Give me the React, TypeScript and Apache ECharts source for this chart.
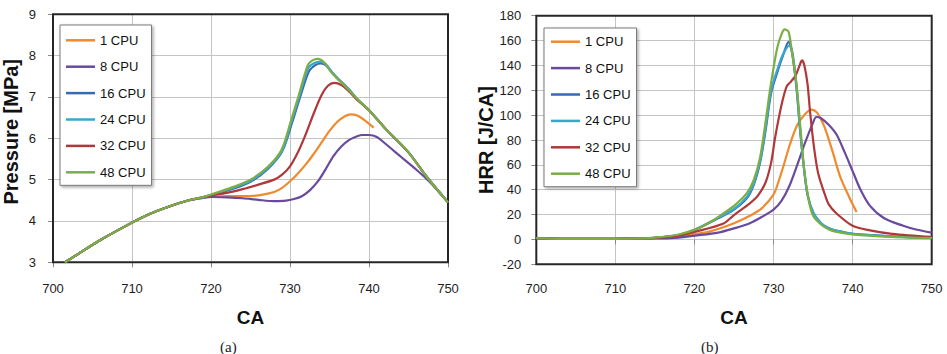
import React, { useEffect, useRef } from "react";
import * as echarts from "echarts";

// Series names and colours
const seriesNames = ["1 CPU", "8 CPU", "16 CPU", "24 CPU", "32 CPU", "48 CPU"];
const seriesColors = ["#F08A2C", "#6A4A9C", "#356AB5", "#3AA6CB", "#B0383A", "#7BAE45"];

// ---- Cylinder pressure [MPa] vs crank angle ----
// compression part shared by every run
const pCommonCa = [701.5, 703, 706, 710, 712, 714.7, 717.2];
const pCommonVal = [3.0, 3.18, 3.54, 3.96, 4.15, 4.35, 4.5];

const p1Ca = [719, 720, 722, 724, 726, 728, 729, 730, 731, 732, 733, 734, 735, 736, 737, 737.7, 738.5, 739.5, 740.6];
const p1Val = [4.56, 4.58, 4.6, 4.6, 4.62, 4.7, 4.8, 4.96, 5.15, 5.37, 5.62, 5.9, 6.18, 6.4, 6.54, 6.58, 6.55, 6.43, 6.26];

const p8Ca = [719, 720, 722, 724, 726, 728, 729.5, 730.5, 731.5, 732.5, 733.5, 734.5, 735.5, 736.5, 737.5, 738.5, 739.2, 740, 741, 742, 744, 746, 747, 748, 750];
const p8Val = [4.56, 4.58, 4.57, 4.55, 4.51, 4.48, 4.49, 4.53, 4.6, 4.74, 4.95, 5.25, 5.57, 5.8, 5.96, 6.05, 6.08, 6.08, 6.03, 5.88, 5.56, 5.24, 5.07, 4.88, 4.45];

const p16Ca = [719, 720, 722.5, 725, 727.2, 729, 730.3, 731.2, 732.4, 733.2, 733.9, 734.6, 735.4, 736.2, 737.4, 738.5, 740, 742, 745, 747.3, 750];
const p16Val = [4.57, 4.62, 4.76, 4.95, 5.26, 5.68, 6.4, 6.95, 7.62, 7.77, 7.81, 7.76, 7.58, 7.42, 7.2, 6.95, 6.68, 6.25, 5.66, 5.07, 4.45];

const p24Ca = [719, 720, 722.5, 725, 727.2, 729, 730.2, 731.1, 732.3, 733.1, 733.8, 734.5, 735.3, 736.1, 737.4, 738.5, 740, 742, 745, 747.3, 750];
const p24Val = [4.57, 4.63, 4.78, 4.97, 5.28, 5.7, 6.42, 6.96, 7.7, 7.82, 7.85, 7.8, 7.6, 7.43, 7.2, 6.95, 6.68, 6.25, 5.66, 5.07, 4.45];

const p32Ca = [719, 720, 722, 724, 726, 728, 729, 730, 731, 732, 733, 734, 734.8, 735.6, 736.5, 737.5, 738.5, 740, 742, 745, 747.3, 750];
const p32Val = [4.58, 4.62, 4.68, 4.77, 4.88, 5.0, 5.12, 5.32, 5.66, 6.1, 6.6, 7.05, 7.27, 7.34, 7.29, 7.13, 6.93, 6.68, 6.25, 5.66, 5.07, 4.45];

const p48Ca = [719, 720, 722.5, 725, 727.2, 728.9, 730.15, 731, 732.25, 732.8, 733.5, 734.3, 735.2, 736, 737.3, 738.5, 740, 742, 743.6, 745, 747.3, 750];
const p48Val = [4.58, 4.64, 4.8, 5.0, 5.31, 5.71, 6.44, 6.97, 7.77, 7.88, 7.92, 7.84, 7.6, 7.44, 7.2, 6.95, 6.68, 6.25, 5.95, 5.66, 5.07, 4.45];

// ---- Heat release rate [J/CA] vs crank angle ----
const hCommonCa = [700, 703, 706, 710, 713];
const hCommonVal = [1, 0.5, 0.4, 0.5, 0.8];

const h1Ca = [715, 718, 720, 722, 725, 727, 728.5, 730, 730.6, 731.3, 732.1, 733, 734, 734.8, 735.5, 736.2, 736.7, 737.5, 738.4, 739.5, 740.5];
const h1Val = [1.2, 2.2, 4.3, 6.5, 13, 19, 25, 36, 46, 60, 77, 92, 101, 104.5, 102, 94, 86, 70, 51, 35, 22];

const h8Ca = [715, 718, 720, 723, 725, 727, 728.5, 730, 731, 732, 733, 734, 735, 735.4, 736, 737, 738, 739, 740, 741, 742.2, 744, 746.4, 748, 750];
const h8Val = [0.8, 1.5, 3, 5.5, 8.9, 13, 18, 24, 31, 43, 60, 78, 94, 98.5, 97.5, 92, 84, 70, 55, 40, 27, 17, 11, 8, 5.5];

const h16Ca = [715, 718, 720, 723, 725, 726.6, 727.5, 728.3, 729, 729.7, 730.5, 731.2, 731.9, 732.3, 732.9, 733.3, 733.8, 734.3, 735, 736, 737, 738, 740, 745, 750];
const h16Val = [1.3, 3.5, 7.5, 17, 24, 33, 44, 62, 88, 118, 135, 148, 159, 152, 122, 92, 60, 36, 22, 13, 9, 7, 4.5, 2.5, 1.2];

const h24Ca = [715, 718, 720, 723, 725, 726.6, 727.5, 728.3, 729, 729.7, 730.5, 731.2, 732, 732.4, 732.9, 733.3, 733.8, 734.3, 735, 736, 737, 738, 740, 745, 750];
const h24Val = [1.3, 3.6, 7.8, 17.5, 24.5, 34, 45, 63, 90, 120, 137, 149, 156, 150, 124, 93, 60, 36, 22, 13, 9, 7, 4.5, 2.5, 1.2];

const h32Ca = [715, 718, 720, 723.6, 725, 727, 728, 729, 729.7, 730.2, 731, 731.65, 732.2, 732.8, 733.3, 733.6, 733.9, 734.3, 734.6, 735.1, 735.65, 736.5, 737, 738, 740, 742.2, 745, 750];
const h32Val = [1.2, 3, 6, 12.6, 19.6, 29, 35, 46, 62, 82, 108, 123, 127, 132, 140, 144, 140, 125, 104, 75, 53, 36, 28, 20.7, 11, 7.3, 4.5, 2];

const h48Ca = [715, 718, 720.3, 722, 723.2, 725, 726.6, 727.5, 728.3, 729, 729.5, 730, 730.5, 731, 731.4, 731.9, 732.3, 732.9, 733.4, 733.9, 734.5, 735, 736, 737, 738, 740, 745, 750];
const h48Val = [1.5, 4, 8.5, 14, 19, 27, 37, 48, 66, 95, 118, 138, 155, 165, 169, 167, 152, 125, 90, 55, 30, 19, 12, 8, 6, 4, 2, 1];

// Axis settings
const xMin = 700;
const xMax = 750;
const xStep = 10;
const pMin = 3;
const pMax = 9;
const pStep = 1;
const hMin = -20;
const hMax = 180;
const hStep = 20;

const pressureCa = [p1Ca, p8Ca, p16Ca, p24Ca, p32Ca, p48Ca];
const pressureVal = [p1Val, p8Val, p16Val, p24Val, p32Val, p48Val];
const hrrCa = [h1Ca, h8Ca, h16Ca, h24Ca, h32Ca, h48Ca];
const hrrVal = [h1Val, h8Val, h16Val, h24Val, h32Val, h48Val];

const pairs = (xs: number[], ys: number[]) => xs.map((x, i) => [x, ys[i]]);

const FONT = "'Liberation Sans', Arial, Helvetica, sans-serif";

function axisCommon(labelMargin: number) {
  return {
    axisLine: { show: false },
    axisTick: { show: true, length: 5, lineStyle: { color: "#8a8a8a", width: 1 } },
    axisLabel: { color: "#1e1e1e", fontSize: 13, fontFamily: FONT, margin: labelMargin },
    splitLine: { show: true, lineStyle: { color: "#c4c4c4", width: 1 } },
  };
}

function legendAt(left: number, top: number, padding: number[]) {
  return {
    show: true,
    orient: "vertical",
    left,
    top,
    data: seriesNames,
    icon: "rect",
    itemWidth: 29,
    itemHeight: 2.5,
    itemGap: 10.4,
    padding,
    selectedMode: false,
    backgroundColor: "#ffffff",
    borderColor: "#7a7a7a",
    borderWidth: 1,
    shadowColor: "rgba(0,0,0,0.35)",
    shadowBlur: 3,
    shadowOffsetX: 1.5,
    shadowOffsetY: 1.5,
    textStyle: { color: "#111", fontSize: 13, fontFamily: FONT, lineHeight: 16 },
  };
}

export default function App() {
  const ref = useRef<HTMLDivElement>(null);

  useEffect(() => {
    if (!ref.current) return;
    const chart = echarts.init(ref.current, undefined, { renderer: "svg" });

    const series: any[] = [];
    seriesNames.forEach((name, i) => {
      series.push({
        type: "line",
        name,
        xAxisIndex: 0,
        yAxisIndex: 0,
        data: pairs(pCommonCa.concat(pressureCa[i]), pCommonVal.concat(pressureVal[i])),
        showSymbol: false,
        smooth: 0.3,
        lineStyle: { color: seriesColors[i], width: 2.2 },
        itemStyle: { color: seriesColors[i] },
        z: 3 + i,
      });
    });
    seriesNames.forEach((name, i) => {
      series.push({
        type: "line",
        name,
        xAxisIndex: 1,
        yAxisIndex: 1,
        data: pairs(hCommonCa.concat(hrrCa[i]), hCommonVal.concat(hrrVal[i])),
        showSymbol: false,
        smooth: 0.3,
        lineStyle: { color: seriesColors[i], width: 2.2 },
        itemStyle: { color: seriesColors[i] },
        z: 3 + i,
      });
    });

    chart.setOption({
      animation: false,
      backgroundColor: "#ffffff",
      textStyle: { fontFamily: FONT },
      grid: [
        { left: 50, top: 14.3, width: 398, height: 248, show: true, borderColor: "#262626", borderWidth: 2, backgroundColor: "transparent", z: 4 },
        { left: 536.3, top: 15.7, width: 395.4, height: 248.6, show: true, borderColor: "#262626", borderWidth: 2, backgroundColor: "transparent", z: 4 },
      ],
      xAxis: [
        {
          type: "value", gridIndex: 0, min: xMin, max: xMax, interval: xStep,
          name: "CA", nameLocation: "middle", nameGap: 46,
          nameTextStyle: { fontSize: 19, fontWeight: "bold", color: "#111", fontFamily: FONT },
          ...axisCommon(20),
        },
        {
          type: "value", gridIndex: 1, min: xMin, max: xMax, interval: xStep,
          name: "CA", nameLocation: "middle", nameGap: 44,
          nameTextStyle: { fontSize: 19, fontWeight: "bold", color: "#111", fontFamily: FONT },
          ...axisCommon(18),
        },
      ],
      yAxis: [
        {
          type: "value", gridIndex: 0, min: pMin, max: pMax, interval: pStep,
          name: "Pressure [MPa]", nameLocation: "middle", nameGap: 32,
          nameTextStyle: { fontSize: 20, fontWeight: "bold", color: "#111", fontFamily: FONT, padding: [0, 0, 0, 13] },
          ...axisCommon(17),
        },
        {
          type: "value", gridIndex: 1, min: hMin, max: hMax, interval: hStep,
          name: "HRR [J/CA]", nameLocation: "middle", nameGap: 39,
          nameTextStyle: { fontSize: 20, fontWeight: "bold", color: "#111", fontFamily: FONT },
          ...axisCommon(15),
        },
      ],
      legend: [legendAt(60, 25, [7.3, 6, 5, 6]), legendAt(544, 28, [5.7, 6, 5, 7])],
      graphic: [
        { type: "text", left: 220, top: 339, style: { text: "(a)", fontSize: 15, fontFamily: "'Liberation Serif', 'Times New Roman', serif", fill: "#222" } },
        { type: "text", left: 701, top: 339, style: { text: "(b)", fontSize: 15, fontFamily: "'Liberation Serif', 'Times New Roman', serif", fill: "#222" } },
      ],
      series,
    });

    return () => chart.dispose();
  }, []);

  return (
    <div style={{ position: "absolute", left: 0, top: 0, width: 947, height: 354, background: "#fff" }}>
      <div ref={ref} style={{ width: 947, height: 354 }} />
    </div>
  );
}
